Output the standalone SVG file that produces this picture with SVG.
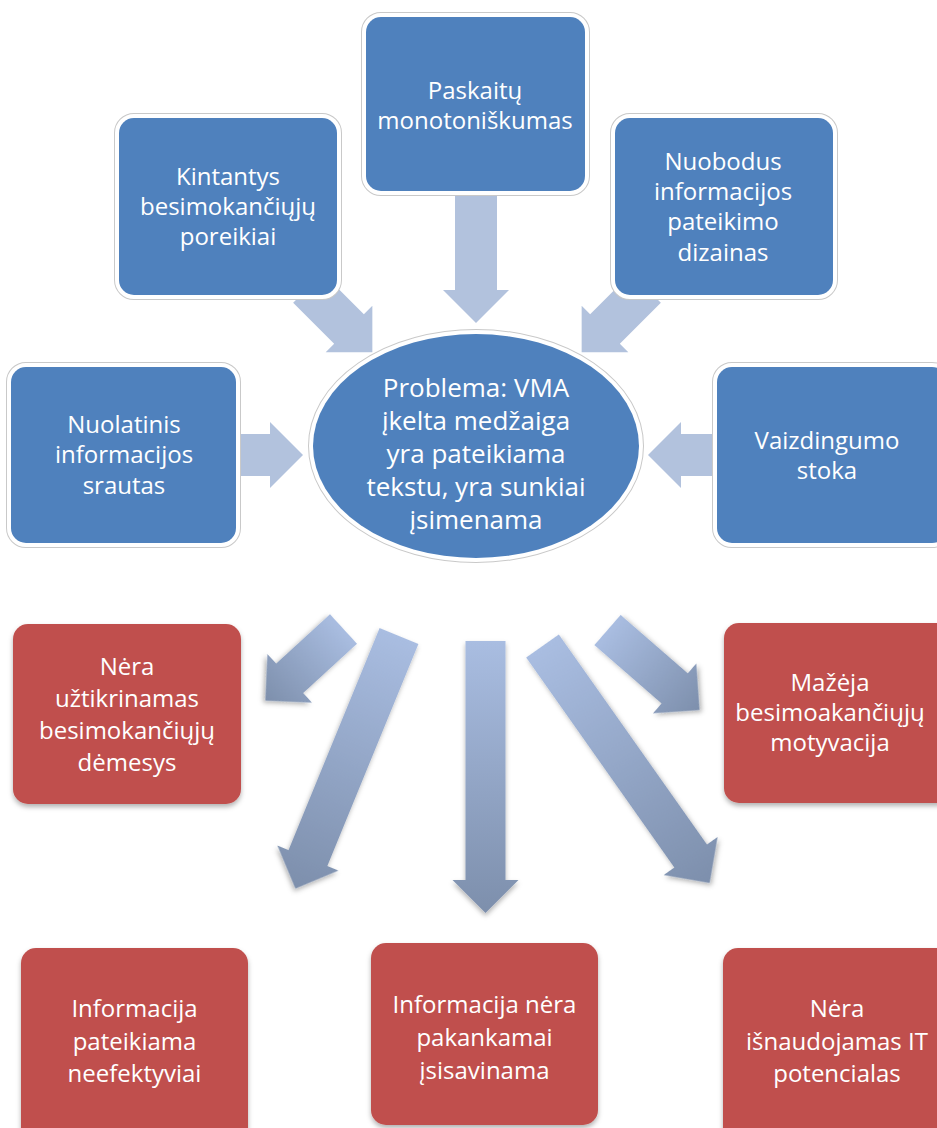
<svg xmlns="http://www.w3.org/2000/svg" xmlns:xlink="http://www.w3.org/1999/xlink" width="937" height="1128" viewBox="0 0 937 1128">
<defs>
<style>
.halo{fill:#fff;stroke:#c9c9c9;stroke-width:10}
.halo2{fill:none;stroke:#fff;stroke-width:8}
.blue{fill:#4F81BD}
.red{fill:#C0504D;filter:url(#sh)}
.la{fill:#B2C2DD}
.ga{fill:url(#g);filter:url(#sh)}
text{font-family:"Open Sans","Liberation Sans",sans-serif;font-size:24px;fill:#fff;text-anchor:middle}
.big{font-size:26px}
</style>
<linearGradient id="g" x1="0" y1="0" x2="0" y2="1">
<stop offset="0" stop-color="#A9BDE1"/>
<stop offset="1" stop-color="#7D8FAC"/>
</linearGradient>
<filter id="sh" x="-20%" y="-20%" width="140%" height="140%">
<feDropShadow dx="0" dy="3" stdDeviation="2.5" flood-color="#000" flood-opacity="0.3"/>
</filter>
</defs>

<g id="connectors">
<path class="la" transform="translate(476,194)" d="M-21 0H21V96H33L0 129L-33 96H-21Z"/>
<path class="la" transform="translate(308,288) rotate(-45)" d="M-21 0H21V58H33L0 91L-33 58H-21Z"/>
<path class="la" transform="translate(646,288) rotate(45)" d="M-21 0H21V58H33L0 91L-33 58H-21Z"/>
<path class="la" transform="translate(236,455) rotate(-90)" d="M-21 0H21V34H33L0 67L-33 34H-21Z"/>
<path class="la" transform="translate(715,455) rotate(90)" d="M-21 0H21V34H33L0 67L-33 34H-21Z"/>
<path class="ga" transform="translate(485.5,641)" d="M-20 0H20V239H33L0 272L-33 239H-20Z"/>
<path class="ga" transform="translate(399,636) rotate(22.3)" d="M-21 0H21V240H33L0 273L-33 240H-21Z"/>
<path class="ga" transform="translate(542.5,646) rotate(-35.2)" d="M-20 0H20V257H33L0 290L-33 257H-20Z"/>
<path class="ga" transform="translate(343.5,629) rotate(47.5)" d="M-20 0H20V73H33L0 106L-33 73H-20Z"/>
<path class="ga" transform="translate(607.5,630) rotate(-49)" d="M-20 0H20V89H33L0 122L-33 89H-20Z"/>
</g>

<g id="n-kintantys">
<rect class="halo" x="119" y="118" width="218" height="177" rx="15"/>
<rect class="halo2" x="119" y="118" width="218" height="177" rx="15"/>
<rect class="blue" x="119" y="118" width="218" height="177" rx="15"/>
<text x="228" y="185">Kintantys</text>
<text x="228" y="215">besimokančiųjų</text>
<text x="228" y="245">poreikiai</text>
</g>

<g id="n-paskaitu">
<rect class="halo" x="366" y="17" width="219" height="174" rx="15"/>
<rect class="halo2" x="366" y="17" width="219" height="174" rx="15"/>
<rect class="blue" x="366" y="17" width="219" height="174" rx="15"/>
<text x="475" y="99">Paskaitų</text>
<text x="475" y="129">monotoniškumas</text>
</g>

<g id="n-nuobodus">
<rect class="halo" x="615" y="118" width="218" height="177" rx="15"/>
<rect class="halo2" x="615" y="118" width="218" height="177" rx="15"/>
<rect class="blue" x="615" y="118" width="218" height="177" rx="15"/>
<text x="723" y="170">Nuobodus</text>
<text x="723" y="200">informacijos</text>
<text x="723" y="230">pateikimo</text>
<text x="723" y="261">dizainas</text>
</g>

<g id="n-nuolatinis">
<rect class="halo" x="11" y="367" width="225" height="176" rx="15"/>
<rect class="halo2" x="11" y="367" width="225" height="176" rx="15"/>
<rect class="blue" x="11" y="367" width="225" height="176" rx="15"/>
<text x="124" y="433">Nuolatinis</text>
<text x="124" y="463">informacijos</text>
<text x="124" y="494">srautas</text>
</g>

<g id="n-vaizdingumo">
<rect class="halo" x="717" y="367" width="230" height="176" rx="15"/>
<rect class="halo2" x="717" y="367" width="230" height="176" rx="15"/>
<rect class="blue" x="717" y="367" width="230" height="176" rx="15"/>
<text x="827" y="449">Vaizdingumo</text>
<text x="827" y="479">stoka</text>
</g>

<g id="n-problema">
<ellipse class="halo" cx="476" cy="446" rx="163" ry="112"/>
<ellipse class="halo2" cx="476" cy="446" rx="163" ry="112"/>
<ellipse class="blue" cx="476" cy="446" rx="163" ry="112"/>
<text class="big" x="476" y="397">Problema: VMA</text>
<text class="big" x="476" y="430">įkelta medžaiga</text>
<text class="big" x="476" y="463">yra pateikiama</text>
<text class="big" x="476" y="496">tekstu, yra sunkiai</text>
<text class="big" x="476" y="529">įsimenama</text>
</g>

<g id="n-nera-uztikrinamas">
<rect class="red" x="13" y="624" width="228" height="180" rx="15"/>
<text x="127" y="675">Nėra</text>
<text x="127" y="707">užtikrinamas</text>
<text x="127" y="739">besimokančiųjų</text>
<text x="127" y="771">dėmesys</text>
</g>

<g id="n-mazeja">
<rect class="red" x="724" y="623" width="230" height="180" rx="15"/>
<text x="830" y="691">Mažėja</text>
<text x="830" y="721">besimoakančiųjų</text>
<text x="830" y="751">motyvacija</text>
</g>

<g id="n-info-pateikiama">
<rect class="red" x="21" y="948" width="227" height="200" rx="15"/>
<text x="134.5" y="1017">Informacija</text>
<text x="134.5" y="1050">pateikiama</text>
<text x="134.5" y="1082">neefektyviai</text>
</g>

<g id="n-info-nera">
<rect class="red" x="371" y="943" width="227" height="182" rx="15"/>
<text x="484.5" y="1013">Informacija nėra</text>
<text x="484.5" y="1046">pakankamai</text>
<text x="484.5" y="1079">įsisavinama</text>
</g>

<g id="n-nera-isnaudojamas">
<rect class="red" x="723" y="948" width="230" height="200" rx="15"/>
<text x="837" y="1017">Nėra</text>
<text x="837" y="1050">išnaudojamas IT</text>
<text x="837" y="1082">potencialas</text>
</g>
</svg>
